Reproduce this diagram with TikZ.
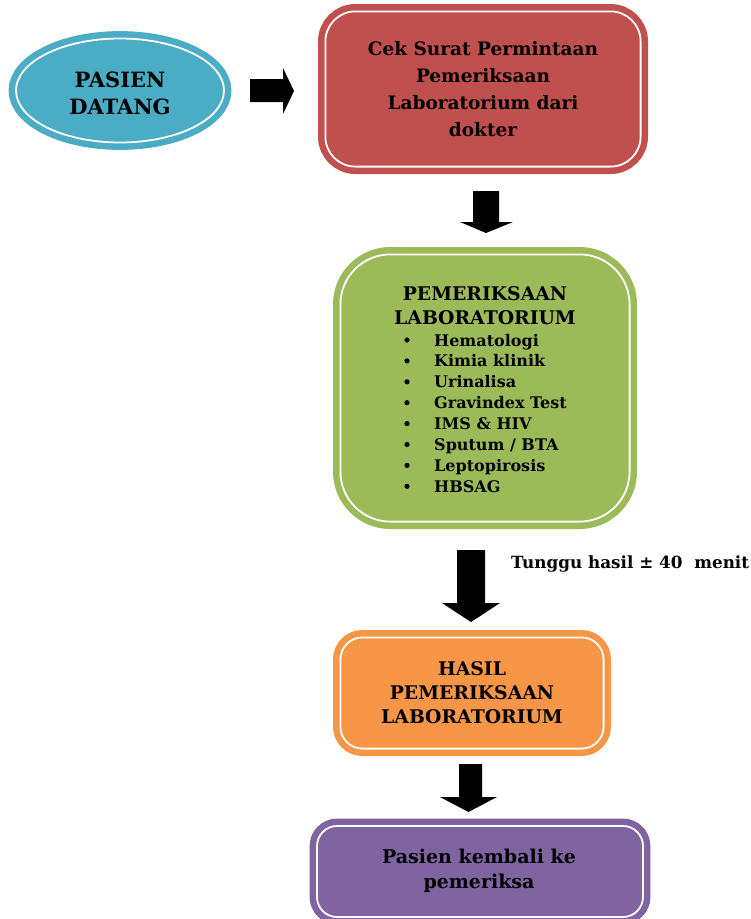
\documentclass[tikz,border=0pt]{standalone}
\usepackage{fontspec}
\setmainfont{DejaVu Serif}
\usetikzlibrary{shapes.geometric}
\definecolor{cblue}{HTML}{4BACC6}
\definecolor{cred}{HTML}{C0504D}
\definecolor{cgreen}{HTML}{9BBB59}
\definecolor{corange}{HTML}{F79646}
\definecolor{cpurple}{HTML}{8064A2}
\tikzset{
  boxstyle/.style={draw=#1, fill=#1, double=white, double distance=1.8pt,
    line width=6.5pt, inner sep=0pt, align=center, text=black},
  blockarrow/.style={fill=black},
}
\begin{document}
\begin{tikzpicture}[x=1pt,y=-1pt]
\useasboundingbox (0,0) rectangle (751,919);
\clip (0,0) rectangle (751,919);

% ellipse
\node[boxstyle=cblue, ellipse, minimum width=208pt, minimum height=104pt] (pasien) at (120,90.5) {};
\node[font=\bfseries\fontsize{21}{27}\selectfont, align=center, inner sep=0pt] (pasientext) at (120,93)
  {PASIEN\\DATANG};

% red box
\node[boxstyle=cred, rounded corners=30pt, minimum width=315.2pt, minimum height=155.2pt,
  font=\bfseries\fontsize{18.5}{27}\selectfont] (cek) at (483,89)
  {Cek Surat Permintaan\\Pemeriksaan\\Laboratorium dari\\dokter};

% green box
\node[boxstyle=cgreen, rounded corners=50pt, minimum width=289.2pt, minimum height=267.2pt] (lab) at (485,388) {};
\node[font=\bfseries\fontsize{18.8}{24}\selectfont, align=center, inner sep=0pt] (labtitle) at (485,305.5)
  {PEMERIKSAAN\\LABORATORIUM};
\foreach \t [count=\i from 0] in {Hematologi, Kimia klinik, Urinalisa, Gravindex Test, IMS \& HIV, Sputum / BTA, Leptopirosis, HBSAG}{
  \pgfmathsetmacro{\yy}{340+20.9*\i}
  \fill (407,\yy) circle (2.6pt);
  \node[font=\bfseries\fontsize{16}{20}\selectfont, anchor=base west, inner sep=0pt] (item\i) at (434,\yy+6) {\t};
}

% wait label
\node[font=\bfseries\fontsize{16.8}{20}\selectfont, anchor=base west, inner sep=0pt] (tunggu) at (511,568)
  {Tunggu hasil ± 40\ \ menit};

% orange box
\node[boxstyle=corange, rounded corners=22pt, minimum width=263.2pt, minimum height=111.2pt,
  font=\bfseries\fontsize{18.8}{24}\selectfont] (hasil) at (472,693)
  {HASIL\\PEMERIKSAAN\\LABORATORIUM};

% purple box
\node[boxstyle=cpurple, rounded corners=20pt, minimum width=326pt, minimum height=91pt] (kembali) at (480,871.5) {};
\node[font=\bfseries\fontsize{19}{25}\selectfont, align=center, inner sep=0pt] (kembalitext) at (479,871)
  {Pasien kembali ke\\pemeriksa};

% block arrows
\fill[blockarrow] (250,79) -- (283,79) -- (283,68) -- (294,91) -- (283,114) -- (283,102) -- (250,102) -- cycle;
\fill[blockarrow] (473,191) -- (499,191) -- (499,222) -- (513,222) -- (486,233) -- (460,222) -- (473,222) -- cycle;
\fill[blockarrow] (457,550) -- (485,550) -- (485,603) -- (500,603) -- (471,622) -- (442,603) -- (457,603) -- cycle;
\fill[blockarrow] (459,764) -- (482,764) -- (482,797) -- (497,797) -- (468.5,812) -- (440,797) -- (459,797) -- cycle;
\end{tikzpicture}
\end{document}
